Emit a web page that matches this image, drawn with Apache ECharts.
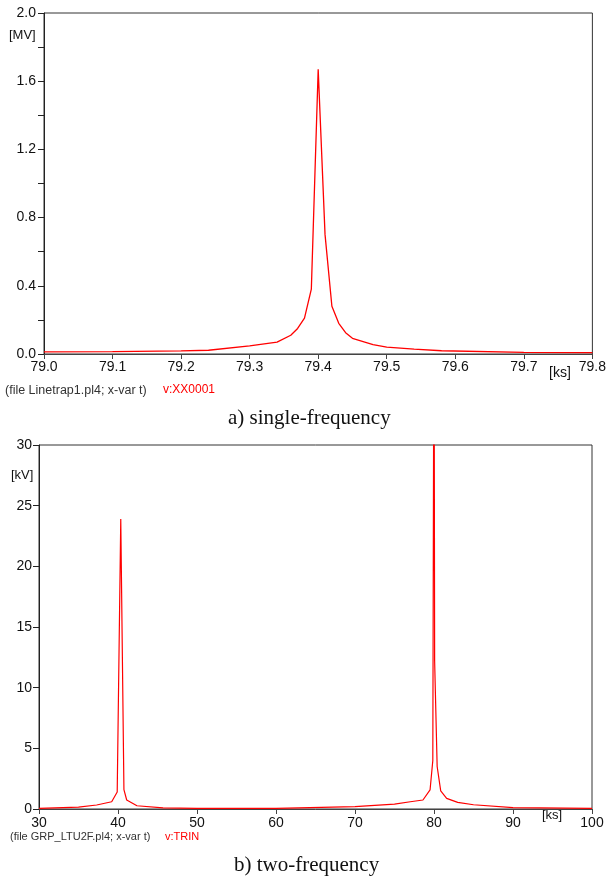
<!DOCTYPE html>
<html>
<head>
<meta charset="utf-8">
<script src="https://cdn.jsdelivr.net/npm/echarts@6/dist/echarts.min.js"></script>
<style>
html,body{margin:0;padding:0;background:#fff;}
#c{width:609px;height:878px;}
</style>
</head>
<body>
<div id="c"></div>
<script>
// a) single-frequency: time [ks], voltage [MV]
const topTime = [79.00, 79.10, 79.20, 79.24, 79.30, 79.34, 79.36, 79.37, 79.38, 79.39, 79.40, 79.41, 79.42, 79.43, 79.44, 79.45, 79.48, 79.50, 79.54, 79.58, 79.70, 79.80];
const topVolt = [0.012, 0.014, 0.018, 0.022, 0.048, 0.070, 0.11, 0.15, 0.21, 0.38, 1.67, 0.70, 0.28, 0.18, 0.125, 0.092, 0.055, 0.040, 0.029, 0.019, 0.010, 0.008];
const topXTicks = ['79.0','79.1','79.2','79.3','79.4','79.5','79.6','79.7','79.8'];
const topYTicks = ['0.0','0.4','0.8','1.2','1.6','2.0'];

// b) two-frequency: time [ks], voltage [kV]
const botTime = [30, 35, 37.3, 39.2, 39.9, 40.35, 40.75, 41.1, 42.4, 45.7, 50, 60, 70, 75, 77, 78.6, 79.5, 79.85, 80.0, 80.08, 80.4, 80.85, 81.6, 83, 85, 90, 100];
const botVolt = [0.05, 0.15, 0.33, 0.6, 1.4, 23.9, 1.6, 0.74, 0.27, 0.1, 0.05, 0.05, 0.2, 0.4, 0.6, 0.74, 1.57, 4.0, 45, 12.2, 3.5, 1.5, 0.88, 0.55, 0.35, 0.12, 0.05];
const botXTicks = ['30','40','50','60','70','80','90','100'];
const botYTicks = ['0','5','10','15','20','25','30'];

const chart = echarts.init(document.getElementById('c'), null, {renderer: 'canvas'});
const FONT = 'Liberation Sans, Arial, sans-serif';
const SERIF = 'Liberation Serif, Times New Roman, serif';

function zip(a, b) { return a.map((v, i) => [v, b[i]]); }

const option = {
  animation: false,
  backgroundColor: '#fff',
  grid: [
    {left: 44, top: 13, width: 559, height: 341, show: true, borderColor: '#333', borderWidth: 1, backgroundColor: 'transparent'},
    {left: 39, top: 445, width: 553, height: 364, show: true, borderColor: '#333', borderWidth: 1, backgroundColor: 'transparent'}
  ],
  xAxis: [
    {
      type: 'value', gridIndex: 0,
      min: Number(topXTicks[0]), max: Number(topXTicks[topXTicks.length - 1]), interval: 0.1,
      axisLine: {show: true, onZero: false, lineStyle: {color: '#444', width: 1}},
      axisTick: {show: true, length: 5, lineStyle: {color: '#444'}},
      axisLabel: {color: '#111', fontFamily: FONT, fontSize: 14, margin: 6,
        formatter: v => v.toFixed(1), showMaxLabel: true, showMinLabel: true},
      splitLine: {show: false}
    },
    {
      type: 'value', gridIndex: 1,
      min: Number(botXTicks[0]), max: Number(botXTicks[botXTicks.length - 1]), interval: 10,
      axisLine: {show: true, onZero: false, lineStyle: {color: '#444', width: 1}},
      axisTick: {show: true, length: 5, lineStyle: {color: '#444'}},
      axisLabel: {color: '#111', fontFamily: FONT, fontSize: 14, margin: 7,
        formatter: v => String(Math.round(v)), showMaxLabel: true, showMinLabel: true},
      splitLine: {show: false}
    }
  ],
  yAxis: [
    {
      type: 'value', gridIndex: 0,
      min: Number(topYTicks[0]), max: Number(topYTicks[topYTicks.length - 1]), interval: 0.4,
      axisLine: {show: true, onZero: false, lineStyle: {color: '#222', width: 1}},
      axisTick: {show: true, length: 6, lineStyle: {color: '#222'}},
      minorTick: {show: true, splitNumber: 2, length: 6, lineStyle: {color: '#222'}},
      axisLabel: {color: '#111', fontFamily: FONT, fontSize: 14, margin: 8,
        formatter: v => v.toFixed(1)},
      splitLine: {show: false}
    },
    {
      type: 'value', gridIndex: 1,
      min: Number(botYTicks[0]), max: Number(botYTicks[botYTicks.length - 1]), interval: 5,
      axisLine: {show: true, onZero: false, lineStyle: {color: '#222', width: 1}},
      axisTick: {show: true, length: 6, lineStyle: {color: '#222'}},
      axisLabel: {color: '#111', fontFamily: FONT, fontSize: 14, margin: 7,
        formatter: v => String(Math.round(v))},
      splitLine: {show: false}
    }
  ],
  series: [
    {
      type: 'line', xAxisIndex: 0, yAxisIndex: 0,
      data: zip(topTime, topVolt), showSymbol: false, symbol: 'none', clip: true,
      lineStyle: {color: '#ff0000', width: 1.3}
    },
    {
      type: 'line', xAxisIndex: 1, yAxisIndex: 1,
      data: zip(botTime, botVolt), showSymbol: false, symbol: 'none', clip: true,
      lineStyle: {color: '#ff0000', width: 1.2}
    }
  ],
  graphic: [
    {type: 'text', left: 9, top: 29, style: {text: '[MV]', font: '13px ' + FONT, fill: '#111'}},
    {type: 'text', left: 549, top: 366, style: {text: '[ks]', font: '14px ' + FONT, fill: '#111'}},
    {type: 'text', left: 5, top: 384, style: {text: '(file Linetrap1.pl4; x-var t)', font: '12.5px ' + FONT, fill: '#333'}},
    {type: 'text', left: 163, top: 384, style: {text: 'v:XX0001', font: '12px ' + FONT, fill: '#ff0000'}},
    {type: 'text', left: 228, top: 408, style: {text: 'a) single-frequency', font: '21px ' + SERIF, fill: '#111'}},

    {type: 'text', left: 11, top: 469, style: {text: '[kV]', font: '13px ' + FONT, fill: '#111'}},
    {type: 'text', left: 542, top: 809, style: {text: '[ks]', font: '13px ' + FONT, fill: '#111'}},
    {type: 'text', left: 10, top: 831, style: {text: '(file GRP_LTU2F.pl4; x-var t)', font: '11px ' + FONT, fill: '#333'}},
    {type: 'text', left: 165, top: 831, style: {text: 'v:TRIN', font: '11px ' + FONT, fill: '#ff0000'}},
    {type: 'text', left: 234, top: 855, style: {text: 'b) two-frequency', font: '21px ' + SERIF, fill: '#111'}}
  ]
};
chart.setOption(option);
</script>
</body>
</html>
